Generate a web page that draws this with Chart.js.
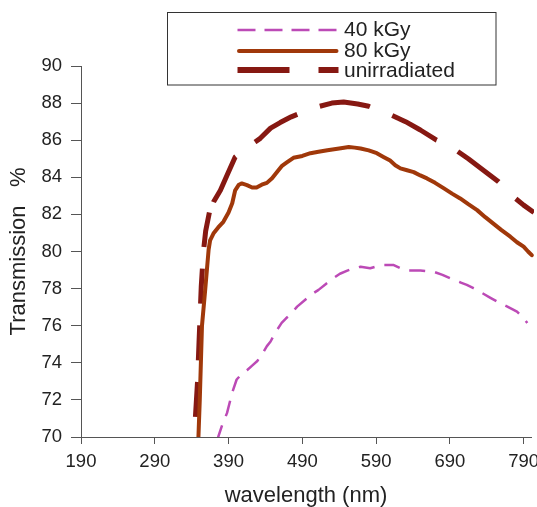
<!DOCTYPE html>
<html>
<head>
<meta charset="utf-8">
<script src="https://cdn.jsdelivr.net/npm/chart.js@4.4.1/dist/chart.umd.min.js"></script>
<style>
  html, body { margin: 0; padding: 0; background: #fff; }
  #wrap { width: 537px; height: 507px; }
</style>
</head>
<body>
<div id="wrap"><canvas id="c" width="537" height="507"></canvas></div>
<script>
// Transmission spectra (wavelength in nm, transmission in %)
const wl40 = [375, 376, 381, 388, 395, 401, 408, 415, 422, 429, 436, 442, 447, 453, 462, 468, 474, 483, 494, 503, 512, 522, 532, 541, 551, 560, 569, 582, 591, 600, 614, 623, 632, 650, 668, 680, 695, 704, 713, 722, 736, 745, 754, 768, 781, 790, 795];
const tr40 = [69.8, 70.0, 70.6, 71.3, 72.4, 73.1, 73.4, 73.6, 73.85, 74.1, 74.5, 74.9, 75.15, 75.6, 76.15, 76.4, 76.6, 77.03, 77.4, 77.7, 77.93, 78.25, 78.56, 78.8, 78.97, 79.1, 79.18, 79.1, 79.2, 79.27, 79.27, 79.1, 78.97, 78.97, 78.91, 78.74, 78.47, 78.34, 78.2, 78.02, 77.71, 77.5, 77.3, 77.03, 76.76, 76.4, 76.14];

const wl80 = [349, 351, 354, 358.5, 363, 365, 370, 376, 383, 390, 395, 399, 404, 408, 415, 422, 428, 435, 442, 449, 456, 462, 469, 478, 490, 501, 512, 524, 540, 553, 561, 569, 580, 591, 600, 609, 616, 623, 632, 641, 650, 659, 670, 682, 693, 704, 715, 727, 738, 749, 760, 772, 781, 790, 796, 801];
const tr80 = [69.8, 72.0, 76.0, 78.0, 80.1, 80.6, 81.0, 81.3, 81.6, 82.1, 82.6, 83.3, 83.6, 83.67, 83.58, 83.45, 83.45, 83.6, 83.7, 83.95, 84.3, 84.6, 84.8, 85.05, 85.15, 85.3, 85.38, 85.46, 85.55, 85.63, 85.6, 85.55, 85.45, 85.3, 85.1, 84.9, 84.65, 84.48, 84.38, 84.28, 84.1, 83.94, 83.7, 83.4, 83.12, 82.86, 82.55, 82.23, 81.85, 81.5, 81.15, 80.8, 80.5, 80.26, 80.0, 79.8];

const wlUn = [343, 345, 348, 350, 353, 356, 359, 364, 370, 379, 389, 399, 412, 426, 433, 447, 460, 475, 490, 511, 530, 546, 565, 580, 595, 611, 630, 650, 672, 685, 697, 715, 735, 756, 768, 779, 790, 804];
const trUn = [69.5, 71.0, 73.0, 75.1, 78.1, 80.0, 81.1, 82.1, 82.7, 83.3, 84.2, 85.1, 85.5, 85.9, 86.1, 86.65, 86.95, 87.26, 87.5, 87.8, 88.0, 88.06, 87.95, 87.83, 87.6, 87.35, 87.0, 86.55, 86.0, 85.8, 85.5, 85.0, 84.4, 83.76, 83.3, 82.86, 82.5, 82.1];

const seriesNames = ['40 kGy', '80 kGy', 'unirradiated'];
const xTicks = [190, 290, 390, 490, 590, 690, 790];
const yTicks = [70, 72, 74, 76, 78, 80, 82, 84, 86, 88, 90];

const FONT = '"Liberation Sans", Arial, Helvetica, sans-serif';
const AXIS = '#555555';
const TEXT = '#222222';

function pts(xs, ys) { return xs.map((x, i) => ({ x: x, y: ys[i] })); }

const styles = [
  { color: '#BC4AB6', width: 2.5, legendWidth: 2.5, dash: [16, 10], legendDash: [18, 9], cap: 'butt' },
  { color: '#A0380A', width: 4, legendWidth: 4, dash: [], legendDash: [], cap: 'round' },
  { color: '#861812', width: 5, legendWidth: 6, dash: [51, 24], legendDash: [52, 29], cap: 'butt' }
];

// The steep rise of the unirradiated curve uses a shorter dash than the plateau.
const steepEnd = wlUn.indexOf(364);
function unirradiatedSegment(ctx) {
  if (ctx.p1DataIndex <= steepEnd) return { dash: [35, 21.7], offset: 27.3 };
  return { dash: [51, 24], offset: 63.8 };
}

// Boxed legend in the upper middle of the plot
const boxLegend = {
  id: 'boxLegend',
  afterDraw(chart) {
    const ctx = chart.ctx;
    ctx.save();
    ctx.strokeStyle = '#333333';
    ctx.lineWidth = 1;
    ctx.strokeRect(167.5, 12.5, 328.5, 72.5);
    const rows = [30, 51, 70];
    const bases = [36, 56.5, 77];
    seriesNames.forEach((name, i) => {
      const s = styles[i];
      ctx.beginPath();
      ctx.setLineDash(s.legendDash);
      ctx.lineDashOffset = 0;
      ctx.lineCap = s.cap;
      ctx.strokeStyle = s.color;
      ctx.lineWidth = s.legendWidth;
      ctx.moveTo(s.cap === 'round' ? 239 : 237.5, rows[i]);
      ctx.lineTo(s.cap === 'round' ? 336.5 : 338.5, rows[i]);
      ctx.stroke();
      ctx.setLineDash([]);
      ctx.fillStyle = TEXT;
      ctx.font = '21px ' + FONT;
      ctx.textAlign = 'left';
      ctx.textBaseline = 'alphabetic';
      ctx.fillText(name, 344, bases[i]);
    });
    ctx.restore();
  }
};

const datasets = [pts(wl40, tr40), pts(wl80, tr80), pts(wlUn, trUn)].map((d, i) => ({
  label: seriesNames[i],
  data: d,
  borderColor: styles[i].color,
  borderWidth: styles[i].width,
  borderDash: styles[i].dash,
  borderCapStyle: styles[i].cap,
  borderJoinStyle: 'round',
  pointRadius: 0,
  tension: 0,
  fill: false,
  clip: { left: 0, top: 0, right: 3, bottom: 0 }
}));
datasets[2].segment = {
  borderDash: (ctx) => unirradiatedSegment(ctx).dash,
  borderDashOffset: (ctx) => unirradiatedSegment(ctx).offset
};
// draw the unirradiated curve under the others
datasets[2].order = 3; datasets[1].order = 2; datasets[0].order = 1;

new Chart(document.getElementById('c'), {
  type: 'line',
  data: { datasets: datasets },
  options: {
    responsive: false,
    animation: false,
    devicePixelRatio: 1,
    layout: { padding: { top: 66, right: 6, left: 0, bottom: 0 } },
    plugins: { legend: { display: false }, tooltip: { enabled: false } },
    scales: {
      x: {
        type: 'linear',
        min: 190,
        max: 800,
        afterBuildTicks: (s) => { s.ticks = xTicks.map(v => ({ value: v })); },
        afterFit: (s) => { s.height = 70; s.paddingLeft = 0; s.paddingRight = 0; },
        border: { display: true, color: AXIS, width: 1 },
        grid: { display: true, drawOnChartArea: false, drawTicks: true, tickLength: 7, color: AXIS },
        ticks: { color: TEXT, padding: 7, maxRotation: 0, autoSkip: false, font: { family: FONT, size: 18.5 } },
        title: { display: true, text: 'wavelength (nm)', color: TEXT, padding: { top: 0, bottom: 0 }, font: { family: FONT, size: 22, lineHeight: 1 } }
      },
      y: {
        type: 'linear',
        min: 70,
        max: 90,
        afterBuildTicks: (s) => { s.ticks = yTicks.map(v => ({ value: v })); },
        afterFit: (s) => { s.width = 81; s.paddingTop = 0; s.paddingBottom = 0; },
        border: { display: true, color: AXIS, width: 1 },
        grid: { display: true, drawOnChartArea: false, drawTicks: true, tickLength: 10, color: AXIS },
        ticks: { color: TEXT, padding: 9, autoSkip: false, font: { family: FONT, size: 18.5 } },
        title: { display: true, text: 'Transmission   %', color: TEXT, padding: { top: 7.5, bottom: 0 }, font: { family: FONT, size: 22, lineHeight: 1 } }
      }
    }
  },
  plugins: [boxLegend]
});
</script>
</body>
</html>
